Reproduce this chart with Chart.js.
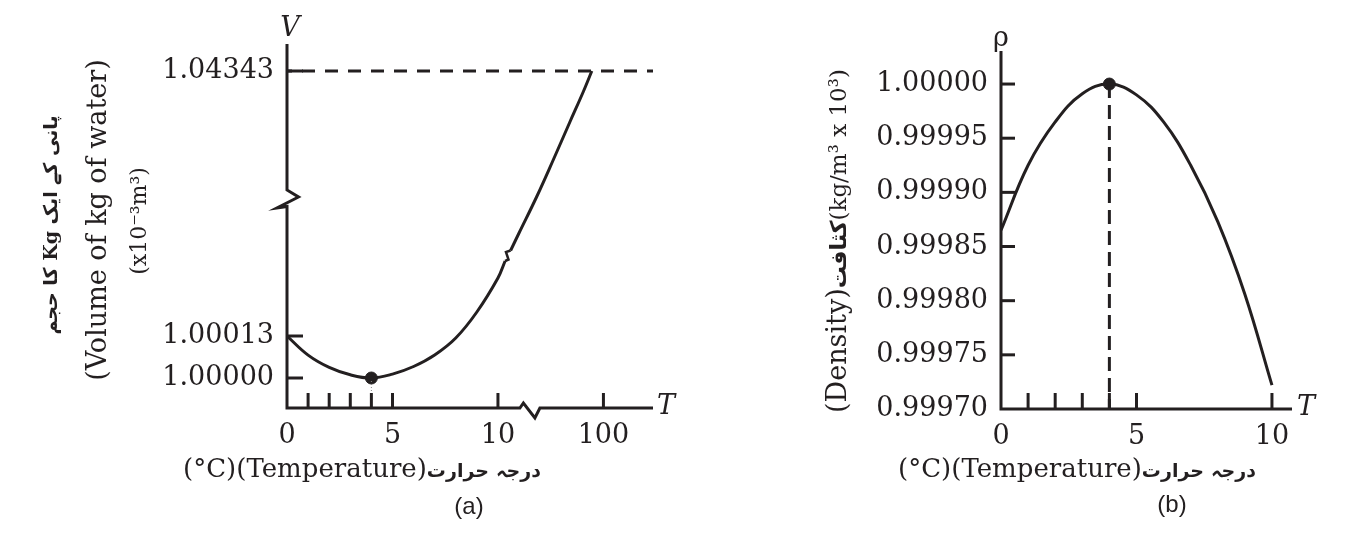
<!DOCTYPE html>
<html>
<head>
<meta charset="utf-8">
<script src="https://cdn.jsdelivr.net/npm/chart.js@4"></script>
<style>
  body { margin: 0; background: #fff; }
  #wrap { position: relative; width: 1361px; height: 536px; overflow: hidden; }
  canvas { position: absolute; top: 0; }
  #chartA { left: 0; }
  #chartB { left: 700px; }
</style>
</head>
<body>
<div id="wrap">
  <canvas id="chartA" width="700" height="536"></canvas>
  <canvas id="chartB" width="661" height="536"></canvas>
</div>
<script>
const INK = "#231f20";
const SERIF = "'DejaVu Serif', 'DejaVu Sans', serif";
const URDU = "'DejaVu Sans', sans-serif";

// (a) volume of 1 kg of water - both axes are broken (schematic), so the values
// are positions as drawn: T in °C up to the break (100 °C sits at position 15),
// V as height above the T axis.
const volTickTemps = [0, 1, 2, 3, 4, 5, 10, 15];
const volTickTempLabels = ["0", "", "", "", "", "5", "10", "100"];
const volTickPos = [30, 72, 337];
const volTickLabels = ["1.00000", "1.00013", "1.04343"];

const volLowTemp = [0, 1, 2, 3, 4, 5, 6, 7, 8, 9, 10, 10.34];
const volLowPos = [72, 52.9, 40.6, 33.2, 30, 33.9, 41.5, 53, 70, 96, 130, 147];
const volZigTemp = [10.34, 10.5, 10.38, 10.6];
const volZigPos = [147, 148.5, 156, 157.5];
const volHighTemp = [10.6, 11.0, 11.83, 12.62, 13.41, 14.04, 14.45];
const volHighPos = [157.5, 175, 211, 248, 286, 316, 337];

// (b) density of water
const denTickTemps = [0, 1, 2, 3, 4, 5, 10];
const denTickTempLabels = ["0", "", "", "", "", "5", "10"];
const densityTicks = [0.99970, 0.99975, 0.99980, 0.99985, 0.99990, 0.99995, 1.00000];
const denTemp = [0, 1, 2, 3, 4, 5, 6, 7, 8, 9, 10];
const density = [0.999865, 0.999925, 0.999965, 0.999991, 1.0, 0.999990, 0.999965, 0.999925, 0.999873, 0.999806, 0.999722];

const maxTemp = 4;

const pts = (xs, ys) => xs.map((x, i) => ({ x: x, y: ys[i] }));

function lineSet(data, extra) {
    return Object.assign({
        data: data,
        showLine: true,
        borderColor: INK,
        borderWidth: 3,
        pointRadius: 0,
        fill: false,
        tension: 0
    }, extra);
}

function stroke(ctx, path) {
    ctx.beginPath();
    ctx.moveTo(path[0][0], path[0][1]);
    for (let i = 1; i < path.length; i++) ctx.lineTo(path[i][0], path[i][1]);
    ctx.stroke();
}

function text(ctx, str, x, y, font, align, rot, dir) {
    ctx.save();
    ctx.translate(x, y);
    if (rot) ctx.rotate(-Math.PI / 2);
    ctx.font = font;
    ctx.fillStyle = INK;
    ctx.textAlign = align || "center";
    ctx.textBaseline = "middle";
    ctx.direction = dir || "ltr";
    ctx.fillText(str, 0, 0);
    ctx.restore();
}

// a run of text pieces in different fonts, centred on (x, y), optionally rotated
function runText(ctx, parts, x, y, rot) {
    ctx.save();
    ctx.translate(x, y);
    if (rot) ctx.rotate(-Math.PI / 2);
    ctx.fillStyle = INK;
    ctx.textBaseline = "alphabetic";
    ctx.textAlign = "left";
    let total = 0;
    parts.forEach(p => { ctx.font = p[1]; total += ctx.measureText(p[0]).width; });
    let cx = -total / 2;
    parts.forEach(p => {
        ctx.font = p[1];
        ctx.direction = p[2] || "ltr";
        ctx.fillText(p[0], cx, 0);
        cx += ctx.measureText(p[0]).width;
    });
    ctx.restore();
}

const tempTitle = [["(°C)(Temperature)", "26px " + SERIF], ["درجہ حرارت", "bold 19px " + URDU, "rtl"]];

function axisScales(xTicks, xLabels, xMax, yTicks, yLabel, yMin, yMax, leftW, bottomH) {
    const tickFont = { family: SERIF, size: 27 };
    return {
        x: {
            type: "linear", min: 0, max: xMax,
            afterBuildTicks: s => { s.ticks = xTicks.map(v => ({ value: v })); },
            afterFit: s => { s.height = bottomH; },
            ticks: { callback: (v, i) => xLabels[i], autoSkip: false, maxRotation: 0, padding: 12, font: tickFont, color: INK },
            grid: { display: false, drawTicks: false },
            border: { display: false }
        },
        y: {
            type: "linear", min: yMin, max: yMax,
            afterBuildTicks: s => { s.ticks = yTicks.map(v => ({ value: v })); },
            afterFit: s => { s.width = leftW; },
            ticks: { callback: yLabel, autoSkip: false, padding: 13, font: tickFont, color: INK },
            grid: { display: false, drawTicks: false },
            border: { display: false }
        }
    };
}

// axes, inward tick marks and captions for (a)
const decorA = {
    id: "decorA",
    afterDraw(chart) {
        const { ctx, scales: { x, y } } = chart;
        const x0 = x.getPixelForValue(0), y0 = y.getPixelForValue(0);
        const top = y.getPixelForValue(y.max), right = x.getPixelForValue(x.max);
        const yb = y.getPixelForValue(218), xb = x.getPixelForValue(11.04);
        ctx.save();
        ctx.strokeStyle = INK;
        ctx.lineWidth = 3;
        stroke(ctx, [[x0, top], [x0, yb], [x0 + 11.5, yb + 7], [x0 - 10, yb + 18], [x0, yb + 16.5], [x0, y0],
            [xb, y0], [xb + 3.5, y0 - 5], [xb + 15, y0 + 10], [xb + 20, y0], [right, y0]]);
        volTickTemps.forEach(v => {
            if (v === 0) return;
            const px = x.getPixelForValue(v);
            stroke(ctx, [[px, y0], [px, y0 - 15]]);
        });
        volTickPos.forEach(v => {
            const py = y.getPixelForValue(v);
            stroke(ctx, [[x0, py], [x0 + 16, py]]);
        });
        ctx.restore();

        text(ctx, "V", x0 + 3, top - 15, "italic 27px " + SERIF);
        text(ctx, "T", right + 4, y0 - 1, "italic 27px " + SERIF, "left");
        text(ctx, "پانی کے ایک Kg کا حجم", 52, 225, "bold 19px " + SERIF, "center", true, "rtl");
        text(ctx, "(Volume of kg of water)", 99, 220, "27px " + SERIF, "center", true);
        text(ctx, "(x10⁻³m³)", 140, 221, "22px " + SERIF, "center", true);
        runText(ctx, tempTitle, 362, 477);
        text(ctx, "(a)", 469, 507, "24px 'Liberation Sans', sans-serif");
    }
};

// axes, inward tick marks and captions for (b)
const decorB = {
    id: "decorB",
    afterDraw(chart) {
        const { ctx, scales: { x, y } } = chart;
        const x0 = x.getPixelForValue(0), y0 = y.getPixelForValue(y.min);
        const top = y.getPixelForValue(y.max), right = x.getPixelForValue(x.max);
        ctx.save();
        ctx.strokeStyle = INK;
        ctx.lineWidth = 3;
        stroke(ctx, [[x0, top], [x0, y0], [right, y0]]);
        denTickTemps.forEach(v => {
            if (v === 0) return;
            const px = x.getPixelForValue(v);
            stroke(ctx, [[px, y0], [px, y0 - 16]]);
        });
        densityTicks.forEach(v => {
            if (v <= y.min) return;
            const py = y.getPixelForValue(v);
            stroke(ctx, [[x0, py], [x0 + 14, py]]);
        });
        ctx.restore();

        text(ctx, "ρ", x0, top - 12, "27px " + SERIF);
        text(ctx, "T", right + 5, y0 - 1, "italic 27px " + SERIF, "left");
        runText(ctx, [["(Density)", "27px " + SERIF], ["کثافت", "bold 22px " + URDU, "rtl"], ["(kg/m³ x 10³)", "23px " + SERIF]], 146, 241, true);
        runText(ctx, tempTitle, 377, 477);
        text(ctx, "(b)", 472, 505, "24px 'Liberation Sans', sans-serif");
    }
};

const commonOptions = {
    responsive: false,
    animation: false,
    plugins: { legend: { display: false }, tooltip: { enabled: false } }
};

new Chart(document.getElementById("chartA").getContext("2d"), {
    type: "scatter",
    data: {
        datasets: [
            lineSet(pts(volLowTemp, volLowPos), { tension: 0.4 }),
            lineSet(pts(volZigTemp, volZigPos), { borderWidth: 2.5 }),
            lineSet(pts(volHighTemp, volHighPos), { tension: 0.4 }),
            lineSet([{ x: 0, y: volTickPos[2] }, { x: 17.35, y: volTickPos[2] }], { borderDash: [13, 10], borderDashOffset: 8 }),
            lineSet([{ x: maxTemp, y: volTickPos[0] }, { x: maxTemp, y: 0 }], { borderWidth: 1, borderDash: [1, 2], borderColor: "#888" }),
            { data: [{ x: maxTemp, y: volTickPos[0] }], pointRadius: 6, backgroundColor: INK, borderColor: INK, showLine: false }
        ]
    },
    options: Object.assign({}, commonOptions, {
        layout: { padding: { top: 44, right: 47, left: 0, bottom: 0 } },
        scales: axisScales(volTickTemps, volTickTempLabels, 17.35, volTickPos, (v, i) => volTickLabels[i], 0, 364, 287, 128)
    }),
    plugins: [decorA]
});

new Chart(document.getElementById("chartB").getContext("2d"), {
    type: "scatter",
    data: {
        datasets: [
            lineSet(pts(denTemp, density), { tension: 0.4 }),
            lineSet([{ x: maxTemp, y: 1.0 }, { x: maxTemp, y: densityTicks[0] }], { borderDash: [14, 7] }),
            { data: [{ x: maxTemp, y: 1.0 }], pointRadius: 6, backgroundColor: INK, borderColor: INK, showLine: false }
        ]
    },
    options: Object.assign({}, commonOptions, {
        layout: { padding: { top: 51, right: 69, left: 0, bottom: 0 } },
        scales: axisScales(denTickTemps, denTickTempLabels, 10.74, densityTicks, v => v.toFixed(5), 0.9997, 1.0000305, 301, 127)
    }),
    plugins: [decorB]
});
</script>
</body>
</html>
